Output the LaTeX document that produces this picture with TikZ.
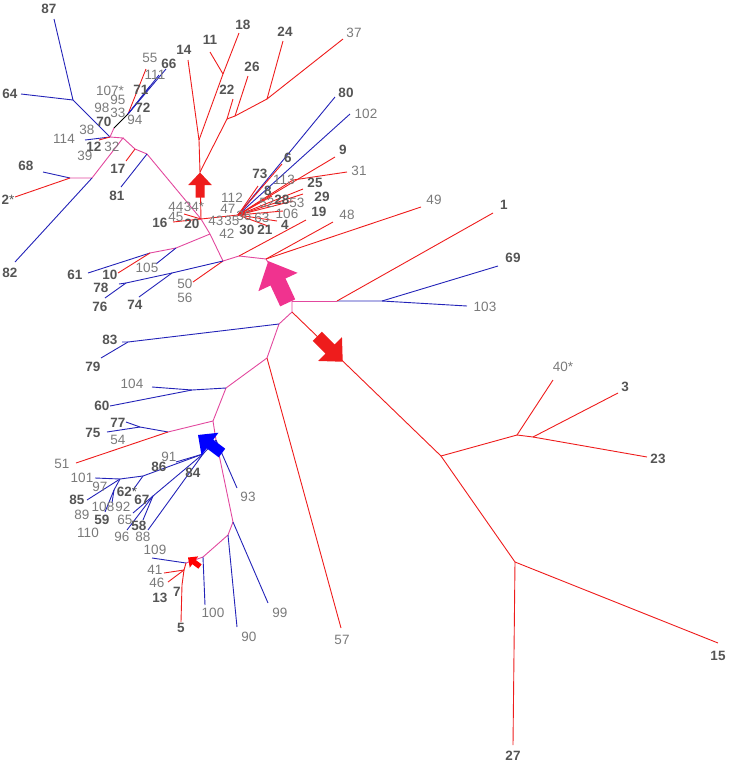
\documentclass[tikz,border=0pt]{standalone}
\usepackage{fontspec}
\setmainfont{Liberation Sans}
\definecolor{tred}{HTML}{EE1C1C}
\definecolor{tblue}{HTML}{2323B8}
\definecolor{tpink}{HTML}{E2489E}
\definecolor{apink}{HTML}{F0338F}
\definecolor{numd}{HTML}{555555}
\definecolor{numl}{HTML}{7A7A7A}

\begin{document}
\begin{tikzpicture}[x=1pt, y=-1pt, line width=0.9pt, every node/.style={inner sep=0pt},
  num/.style={font=\fontsize{13.5}{14}\selectfont, text=numl},
  numb/.style={font=\fontsize{13.5}{14}\selectfont\bfseries, text=numd},
  rd/.style={draw=tred}, bl/.style={draw=tblue}, pk/.style={draw=tpink},
  barrow/.pic={\fill (-0.5,-0.18) -- (0,-0.18) -- (0,-0.47) -- (0.5,0) -- (0,0.47) -- (0,0.18) -- (-0.5,0.18) -- cycle;}]
\useasboundingbox (0,0) rectangle (729,764);
% top-left group
\coordinate (n87) at (73,100); \coordinate (x87) at (54,19); \coordinate (x64) at (21,94);
\coordinate (pa) at (110,137); \coordinate (x114) at (85,140); \coordinate (x12) at (99,140);
\coordinate (k70) at (114,128); \coordinate (c70) at (128,114);
\coordinate (x55) at (146,69); \coordinate (x66) at (166,69); \coordinate (x111) at (159,75); \coordinate (x71) at (150,86);
\coordinate (p1) at (123,138); \coordinate (p2) at (92,178); \coordinate (p3) at (70,178);
\coordinate (x82) at (15,262); \coordinate (x68) at (43,172); \coordinate (x2) at (15,197);
\coordinate (p4) at (135,149); \coordinate (x17) at (126,161); \coordinate (p5) at (147,154); \coordinate (x81) at (121,187);
% red subtree above the red arrow
\coordinate (j1) at (201,219); \coordinate (ra) at (200,185); \coordinate (r0) at (200,172);
\coordinate (n14) at (199,140); \coordinate (x14) at (188,60);
\coordinate (n11) at (223,74); \coordinate (x11) at (210,52); \coordinate (x18) at (239,33);
\coordinate (n22) at (227,119); \coordinate (x22) at (233,99);
\coordinate (n26) at (235,116); \coordinate (x26) at (248,76);
\coordinate (n24) at (267,99); \coordinate (x24) at (283,41); \coordinate (x37) at (343,39);
% dense red cluster
\coordinate (h) at (238,215); \coordinate (x44) at (184,214); \coordinate (x16) at (173,222);
\coordinate (x80) at (335,97); \coordinate (x102) at (350,114);
\coordinate (x6) at (282,164); \coordinate (x73) at (258,186); \coordinate (n113) at (293,180);
\coordinate (x9) at (335,157); \coordinate (x31) at (347,172); \coordinate (x8) at (272,196);
\coordinate (x25) at (303,189); \coordinate (x29) at (303,194); \coordinate (x28) at (293,201);
\coordinate (x106) at (283,211); \coordinate (x4) at (277,221); \coordinate (x21) at (268,226);
% centre
\coordinate (j2) at (210,234); \coordinate (c1) at (223,261); \coordinate (c3) at (239,256); \coordinate (c2) at (266,259);
\coordinate (x19) at (306,220); \coordinate (x48) at (333,222); \coordinate (x49) at (421,207); \coordinate (x50) at (193,282);
\coordinate (k1) at (176,248); \coordinate (k2) at (150,253);
\coordinate (x61) at (88,273); \coordinate (x10) at (118,273); \coordinate (x105) at (156,264);
\coordinate (l1) at (172,273); \coordinate (l2) at (126,283);
\coordinate (x78) at (119,284); \coordinate (x76) at (105,298); \coordinate (x74) at (139,297);
\coordinate (ap) at (278,282);
% right
\coordinate (m0) at (292,301); \coordinate (mr) at (337,301); \coordinate (m69) at (382,301);
\coordinate (x1) at (493,213); \coordinate (x69) at (498,266); \coordinate (x103) at (467,306);
% big red subtree
\coordinate (m1) at (292,312); \coordinate (rb) at (330,349);
\coordinate (r1) at (441,456); \coordinate (r2) at (517,435); \coordinate (x40) at (553,380);
\coordinate (r3) at (533,437); \coordinate (x3) at (618,393); \coordinate (x23) at (647,457);
\coordinate (r4) at (515,562); \coordinate (x27) at (513,745); \coordinate (x15) at (718,643);
% lower pink chain
\coordinate (m2) at (279,324); \coordinate (m3) at (267,358); \coordinate (m4) at (226,388);
\coordinate (m5) at (213,421); \coordinate (m6) at (168,432); \coordinate (m7) at (216,440);
\coordinate (m8) at (233,522); \coordinate (m9) at (228,535); \coordinate (m10) at (203,557);
\coordinate (x57) at (341,628);
\coordinate (k83) at (128,342); \coordinate (x83) at (122,342); \coordinate (x79) at (101,358);
\coordinate (k60) at (192,390); \coordinate (x104) at (152,387); \coordinate (x60) at (110,406);
\coordinate (k77) at (140,427); \coordinate (x77) at (126,422); \coordinate (x75) at (107,432); \coordinate (x51) at (76,463);
% blue subtree
\coordinate (ab) at (210,444); \coordinate (k84) at (203,454); \coordinate (x93) at (237,488);
\coordinate (k62) at (143,476); \coordinate (k97) at (120,479); \coordinate (x101) at (95,478); \coordinate (x91) at (176,462);
\coordinate (x62) at (133,490); \coordinate (x85) at (87,500); \coordinate (k108) at (114,490);
\coordinate (x108) at (112,503); \coordinate (x59) at (105,512);
\coordinate (k67) at (153,496); \coordinate (x96) at (127,530); \coordinate (x65) at (133,513);
\coordinate (x58) at (143,520); \coordinate (x88) at (148,530);
% bottom
\coordinate (x99) at (268,603); \coordinate (x90) at (237,627); \coordinate (x100) at (205,605);
\coordinate (rs) at (194,562); \coordinate (r5) at (186,563); \coordinate (x109) at (152,558);
\coordinate (r6) at (184,570); \coordinate (x41) at (164,573); \coordinate (x46) at (168,582);
\coordinate (r7) at (182,585); \coordinate (x5) at (181,622);

% branches
\draw[bl] (x87) -- (n87) -- (pa); \draw[bl] (x64) -- (n87);
\draw[bl] (x114) -- (pa); \draw[rd] (x12) -- (pa);
\draw[pk] (pa) -- (k70); \draw[black] (k70) -- (c70);
\draw[rd] (c70) -- (x55); \draw[bl] (c70) -- (x66); \draw[bl] (c70) -- (x111); \draw[bl] (c70) -- (x71);
\draw[pk] (pa) -- (p1) -- (p2) -- (p3); \draw[bl] (p2) -- (x82); \draw[bl] (p3) -- (x68); \draw[rd] (p3) -- (x2);
\draw[pk] (p1) -- (p4) -- (p5) -- (j1); \draw[rd] (p4) -- (x17); \draw[bl] (p5) -- (x81);
\draw[rd] (j1) -- (r0);
\draw[rd] (r0) -- (n14) -- (x14); \draw[rd] (n14) -- (n11) -- (x11); \draw[rd] (n11) -- (x18);
\draw[rd] (r0) -- (n22) -- (x22); \draw[rd] (n22) -- (n26) -- (x26); \draw[rd] (n26) -- (n24) -- (x24); \draw[rd] (n24) -- (x37);
\draw[rd] (x44) -- (j1) -- (h); \draw[rd] (x16) -- (j1);
\draw[bl] (h) -- (x80); \draw[bl] (h) -- (x102);
\draw[rd] (h) -- (x6); \draw[rd] (h) -- (x73); \draw[rd] (h) -- (n113) -- (x31); \draw[rd] (h) -- (x9);
\draw[rd] (h) -- (x8); \draw[rd] (h) -- (x25); \draw[rd] (h) -- (x29); \draw[rd] (h) -- (x28);
\draw[rd] (h) -- (x106); \draw[rd] (h) -- (x4); \draw[rd] (h) -- (x21);
\draw[pk] (j1) -- (j2) -- (c1) -- (c3) -- (c2) -- (m0);
\draw[rd] (c3) -- (x19); \draw[rd] (c2) -- (x48); \draw[rd] (c2) -- (x49); \draw[rd] (c1) -- (x50);
\draw[pk] (j2) -- (k1) -- (k2); \draw[bl] (k2) -- (x61); \draw[rd] (k2) -- (x10); \draw[bl] (k1) -- (x105);
\draw[bl] (c1) -- (l1) -- (l2) -- (x78); \draw[bl] (l1) -- (x74); \draw[bl] (l2) -- (x76);
\draw[pk] (m0) -- (mr); \draw[bl] (mr) -- (m69) -- (x103); \draw[bl] (m69) -- (x69); \draw[rd] (mr) -- (x1);
\draw[pk] (m0) -- (m1) -- (m2) -- (m3) -- (m4) -- (m5) -- (m7) -- (m8) -- (m9) -- (m10) -- (r5);
\draw[rd] (m1) -- (r1);
\draw[rd] (r1) -- (r2) -- (x40); \draw[rd] (r2) -- (r3) -- (x3); \draw[rd] (r3) -- (x23);
\draw[rd] (r1) -- (r4) -- (x27); \draw[rd] (r4) -- (x15);
\draw[rd] (m3) -- (x57);
\draw[bl] (m2) -- (k83) -- (x83); \draw[bl] (k83) -- (x79);
\draw[bl] (m4) -- (k60) -- (x104); \draw[bl] (k60) -- (x60);
\draw[pk] (m5) -- (m6); \draw[bl] (m6) -- (k77) -- (x77); \draw[bl] (k77) -- (x75); \draw[rd] (m6) -- (x51);
\draw[bl] (m7) -- (x93);
\draw[bl] (m7) -- (k84) -- (k62) -- (k97) -- (x101); \draw[bl] (k84) -- (x91);
\draw[bl] (k62) -- (x62); \draw[bl] (k97) -- (x85); \draw[bl] (k97) -- (k108) -- (x108); \draw[bl] (k108) -- (x59);
\draw[bl] (k84) -- (k67) -- (x96); \draw[bl] (k67) -- (x65); \draw[bl] (k67) -- (x58); \draw[bl] (k84) -- (x88);
\draw[bl] (m8) -- (x99); \draw[bl] (m9) -- (x90); \draw[bl] (m10) -- (x100);
\draw[bl] (r5) -- (x109); \draw[rd] (r5) -- (r6) -- (x41); \draw[rd] (r6) -- (x46); \draw[rd] (r6) -- (r7) -- (x5);

% block arrows on the branches
\pic[fill=apink, rotate=115, scale=46] at (ap) {barrow};
\pic[fill=tred, rotate=90, scale=25] at (ra) {barrow};
\pic[fill=tred, rotate=-45, scale=36] at (rb) {barrow};
\pic[fill=blue, rotate=143, scale=30] at (ab) {barrow};
\pic[fill=red, rotate=143, scale=15] at (rs) {barrow};

% labels, top-left
\node[numb] (t87) at (49,9) {87}; \node[numb] (t64) at (10,94) {64};
\node[num] (t55) at (150,58) {55}; \node[numb] (t66) at (169,64) {66}; \node[num] (t111) at (155,75) {111};
\node[numb] (t71) at (141,90) {71}; \node[num] (t107) at (110,91) {107*}; \node[num] (t95) at (118,100) {95};
\node[num] (t98) at (102,108) {98}; \node[numb] (t72) at (143,108) {72}; \node[num] (t33) at (118,113) {33};
\node[num] (t94) at (135,120) {94}; \node[numb] (t70) at (104,122) {70}; \node[num] (t38) at (87,130) {38};
\node[num] (t114) at (64,139) {114}; \node[numb] (t12) at (94,147) {12}; \node[num] (t32) at (112,147) {32};
\node[num] (t39) at (85,156) {39}; \node[numb] (t68) at (26,166) {68}; \node[numb] (t2) at (8,200) {2\textmd{*}};
\node[numb] (t17) at (118,169) {17}; \node[numb] (t81) at (117,196) {81}; \node[numb] (t82) at (10,273) {82};
% labels, top
\node[numb] (t14) at (184,50) {14}; \node[numb] (t11) at (210,40) {11}; \node[numb] (t18) at (243,25) {18};
\node[numb] (t22) at (227,90) {22}; \node[numb] (t26) at (252,67) {26}; \node[numb] (t24) at (285,32) {24};
\node[num] (t37) at (354,33) {37}; \node[numb] (t80) at (346,93) {80}; \node[num] (t102) at (366,114) {102};
% labels, dense cluster
\node[num] (t44) at (176,207) {44}; \node[num] (t34) at (194,207) {34*}; \node[num] (t45) at (176,217) {45};
\node[numb] (t16) at (160,223) {16}; \node[numb] (t20) at (192,224) {20};
\node[num] (t112) at (232,198) {112}; \node[num] (t47) at (228,209) {47}; \node[num] (t43) at (216,221) {43};
\node[num] (t35) at (232,221) {35}; \node[num] (t42) at (227,234) {42}; \node[numb] (t30) at (247,230) {30};
\node[numb] (t21) at (265,230) {21}; \node[numb] (t4) at (285,225) {4}; \node[num] (t36) at (244,216) {36};
\node[num] (t63) at (262,218) {63}; \node[num] (t106) at (287,214) {106}; \node[num] (t53) at (297,203) {53};
\node[num] (t52) at (267,203) {52}; \node[numb] (t28) at (282,200) {28}; \node[numb] (t8) at (268,191) {8};
\node[numb] (t73) at (260,174) {73}; \node[num] (t113) at (284,180) {113}; \node[numb] (t6) at (288,158) {6};
\node[numb] (t25) at (315,183) {25}; \node[numb] (t29) at (322,197) {29}; \node[numb] (t19) at (319,212) {19};
\node[numb] (t9) at (343,150) {9}; \node[num] (t31) at (359,171) {31}; \node[num] (t48) at (347,215) {48};
\node[num] (t49) at (434,200) {49};
% labels, centre and right
\node[numb] (t61) at (75,275) {61}; \node[numb] (t10) at (110,275) {10}; \node[num] (t105) at (147,268) {105};
\node[numb] (t78) at (101,288) {78}; \node[numb] (t76) at (100,307) {76}; \node[numb] (t74) at (135,305) {74};
\node[num] (t50) at (185,284) {50}; \node[num] (t56) at (185,298) {56};
\node[numb] (t1) at (504,205) {1}; \node[numb] (t69) at (513,258) {69}; \node[num] (t103) at (485,307) {103};
\node[num] (t40) at (563,367) {40*}; \node[numb] (t3) at (625,387) {3}; \node[numb] (t23) at (658,459) {23};
\node[numb] (t27) at (513,756) {27}; \node[numb] (t15) at (718,656) {15}; \node[num] (t57) at (342,640) {57};
% labels, lower left
\node[numb] (t83) at (110,340) {83}; \node[numb] (t79) at (93,367) {79};
\node[num] (t104) at (132,384) {104}; \node[numb] (t60) at (102,406) {60};
\node[numb] (t77) at (118,423) {77}; \node[numb] (t75) at (93,433) {75}; \node[num] (t54) at (118,440) {54};
\node[num] (t51) at (62,464) {51}; \node[num] (t93) at (248,497) {93};
\node[num] (t91) at (169,457) {91}; \node[numb] (t86) at (159,467) {86}; \node[numb] (t84) at (193,473) {84};
\node[num] (t101) at (82,478) {101}; \node[num] (t97) at (100,487) {97}; \node[numb] (t62) at (127,492) {62\textmd{*}};
\node[numb] (t85) at (77,500) {85}; \node[numb] (t67) at (142,500) {67}; \node[num] (t108) at (103,507) {108};
\node[num] (t92) at (123,507) {92}; \node[num] (t89) at (82,515) {89}; \node[numb] (t59) at (102,520) {59};
\node[num] (t65) at (125,520) {65}; \node[numb] (t58) at (139,526) {58}; \node[num] (t110) at (88,533) {110};
\node[num] (t96) at (122,537) {96}; \node[num] (t88) at (143,537) {88};
% labels, bottom
\node[num] (t109) at (155,550) {109}; \node[num] (t41) at (155,570) {41}; \node[num] (t46) at (157,583) {46};
\node[numb] (t13) at (160,598) {13}; \node[numb] (t7) at (177,592) {7}; \node[numb] (t5) at (181,628) {5};
\node[num] (t100) at (213,613) {100}; \node[num] (t90) at (249,637) {90}; \node[num] (t99) at (280,613) {99};
\end{tikzpicture}
\end{document}
